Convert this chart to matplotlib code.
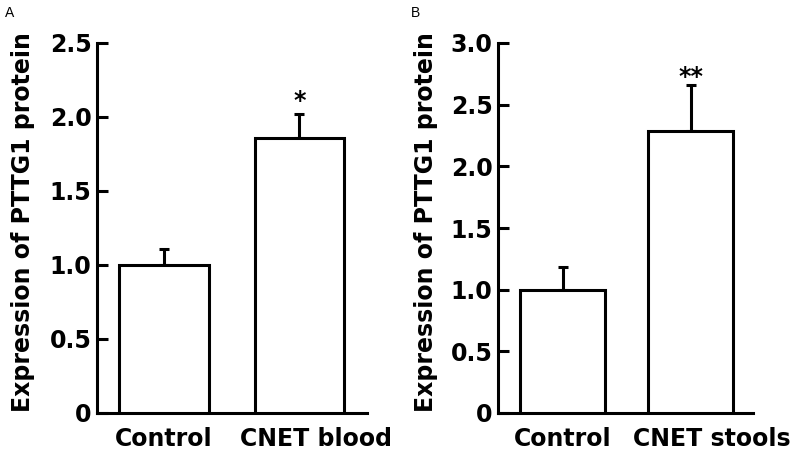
import matplotlib
matplotlib.use("Agg")
import matplotlib.pyplot as plt
import numpy as np

# ---- data ----
cats_a = ["Control", "CNET blood"]
vals_a = [1.00, 1.86]
errs_a = [0.11, 0.16]
sig_a = ["", "*"]
yticks_a = [0, 0.5, 1.0, 1.5, 2.0, 2.5]
yticklabels_a = ["0", "0.5", "1.0", "1.5", "2.0", "2.5"]

cats_b = ["Control", "CNET stools"]
vals_b = [1.00, 2.29]
errs_b = [0.18, 0.37]
sig_b = ["", "**"]
yticks_b = [0, 0.5, 1.0, 1.5, 2.0, 2.5, 3.0]
yticklabels_b = ["0", "0.5", "1.0", "1.5", "2.0", "2.5", "3.0"]

ylabel = "Expression of PTTG1 protein"

W, H = 800, 451
fig = plt.figure(figsize=(W / 100, H / 100), dpi=100)
fig.patch.set_facecolor("white")

FONT = "DejaVu Sans"
FS = 17
LW = 2.2


def px_axes(left, right, top, bottom):
    return fig.add_axes([left / W, 1 - bottom / H, (right - left) / W, (bottom - top) / H])


def panel(ax, cats, vals, errs, sig, yticks, ylabels, ymax, xlim, star_off, lab_dx):
    x = np.arange(len(cats))
    ax.bar(x, vals, width=0.66, color="white", edgecolor="black", linewidth=LW, zorder=3)
    lower = [0] * len(errs)
    ax.errorbar(x, vals, yerr=[lower, errs], fmt="none", ecolor="black",
                elinewidth=LW, capsize=3.6, capthick=LW, zorder=2)
    for xi, v, e, s in zip(x, vals, errs, sig):
        if s:
            ax.annotate(s, (xi, v + e), xytext=(0, star_off), textcoords="offset points",
                        ha="center", va="bottom", fontsize=FS, fontweight="bold",
                        family=FONT)
    for xi, c, dx in zip(x, cats, lab_dx):
        ax.annotate(c, (xi, 0), xycoords=("data", "axes fraction"),
                    xytext=(dx, -10), textcoords="offset points",
                    ha="center", va="top", fontsize=FS, fontweight="bold",
                    family=FONT, annotation_clip=False)
    ax.set_ylim(0, ymax)
    ax.set_xlim(*xlim)
    ax.set_xticks([])
    ax.set_yticks(yticks)
    ax.set_yticklabels(ylabels, fontsize=FS, fontweight="bold", family=FONT)
    ax.tick_params(axis="y", direction="in", length=8, width=LW, pad=4)
    for side in ["top", "right"]:
        ax.spines[side].set_visible(False)
    for side in ["left", "bottom"]:
        ax.spines[side].set_linewidth(LW)
    ax.set_facecolor("white")


ax_a = px_axes(97, 367, 43, 413)
panel(ax_a, cats_a, vals_a, errs_a, sig_a, yticks_a, yticklabels_a, 2.5,
      (-0.495, 1.5), 1, [0, 12])
ax_b = px_axes(498, 753, 43, 413)
panel(ax_b, cats_b, vals_b, errs_b, sig_b, yticks_b, yticklabels_b, 3.0,
      (-0.504, 1.488), -3, [0, 15])

fig.text(23 / W, 1 - 222 / H, ylabel, rotation=90, ha="center", va="center",
         fontsize=FS, fontweight="bold", family=FONT)
fig.text(426 / W, 1 - 222 / H, ylabel, rotation=90, ha="center", va="center",
         fontsize=FS, fontweight="bold", family=FONT)

fig.text(5 / W, 1 - 13 / H, "A", ha="left", va="center", fontsize=10,
         family="Liberation Sans")
fig.text(411 / W, 1 - 13 / H, "B", ha="left", va="center", fontsize=10,
         family="Liberation Sans")

fig.savefig("out.png", dpi=100, facecolor="white")
